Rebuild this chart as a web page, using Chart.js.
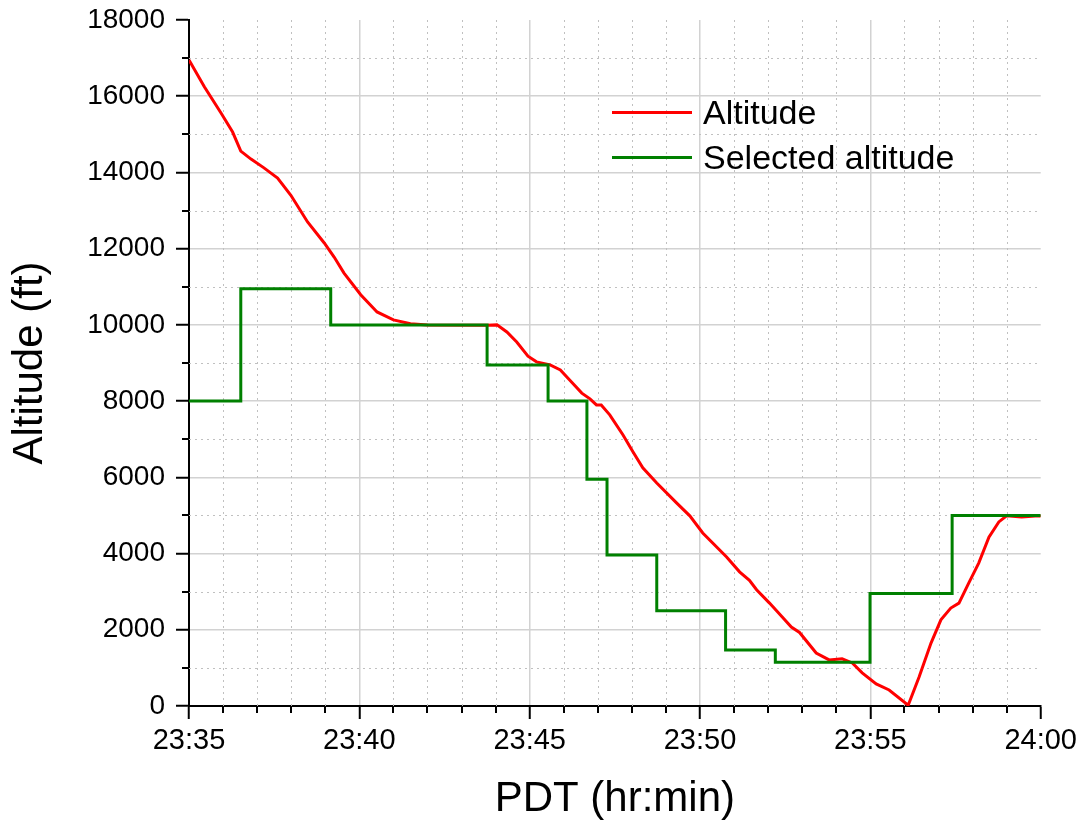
<!DOCTYPE html>
<html>
<head>
<meta charset="utf-8">
<script src="https://cdn.jsdelivr.net/npm/chart.js@4.4.0/dist/chart.umd.min.js"></script>
<style>
  html, body { margin: 0; padding: 0; background: #fff; }
  #wrap { position: relative; width: 1082px; height: 827px; }
  #legend {
    position: absolute; left: 612px; top: 90px;
    font-family: 'Liberation Sans', Arial, sans-serif; font-size: 34px; color: #000;
  }
  .item { display: flex; align-items: center; height: 45px; white-space: nowrap; }
  .swatch { width: 80px; height: 3px; margin-right: 11px; }
</style>
</head>
<body>
<div id="wrap">
  <canvas id="chart" width="1082" height="827"></canvas>
  <div id="legend"></div>
</div>
<script>
// minutes after 23:35
const xTickLabels = ['23:35', '23:40', '23:45', '23:50', '23:55', '24:00'];

const altTime = [0, 0.45, 0.94, 1.28, 1.52, 1.82, 2.2, 2.6, 2.99, 3.48, 3.97, 4.26, 4.55, 5.04, 5.52, 6.0, 6.5, 7.0,
  8.75, 9.04, 9.33, 9.62, 9.95, 10.2, 10.6, 10.9, 11.18, 11.53, 11.77, 11.96, 12.1, 12.35, 12.74, 13.03, 13.32, 13.73,
  14.31, 14.7, 15.08, 15.78, 16.16, 16.45, 16.66, 17.04, 17.4, 17.68, 17.92, 18.41, 18.79, 19.17, 19.47, 19.76, 20.17,
  20.55, 21.11, 21.43, 21.78, 22.07, 22.36, 22.6, 22.89, 23.18, 23.48, 23.77, 24.0, 24.44, 24.94, 25];
const altFeet = [16950, 16250, 15560, 15060, 14560, 14350, 14120, 13850, 13400, 12700, 12150, 11780, 11360, 10790, 10340, 10130, 10030, 10000,
  9990, 10000, 9815, 9550, 9180, 9030, 8950, 8820, 8550, 8210, 8060, 7900, 7900, 7640, 7110, 6670, 6250, 5850,
  5330, 4990, 4540, 3910, 3520, 3300, 3050, 2700, 2350, 2070, 1930, 1390, 1210, 1240, 1130, 870, 580,
  420, 20, 760, 1650, 2260, 2570, 2700, 3230, 3750, 4430, 4830, 4990, 4960, 4990, 4980];

// selected altitude: time each new value was set
const selTime = [0, 1.52, 4.16, 8.75, 10.54, 11.68, 12.27, 13.73, 15.75, 17.21, 19.99, 22.4, 25];
const selFeet = [8000, 10950, 10000, 8950, 8000, 5950, 3960, 2500, 1470, 1150, 2950, 5000, 5000];

const font = "'Liberation Sans', Arial, sans-serif";
const majorGrid = '#d2d2d2';

const minorGrid = {
  id: 'minorGrid',
  beforeDatasetsDraw(chart) {
    const { ctx, chartArea: a, scales: { x, y } } = chart;
    ctx.save();
    ctx.strokeStyle = '#c0c0c0';
    ctx.lineWidth = 1;
    ctx.setLineDash([2, 4]);
    ctx.beginPath();
    for (let m = 1; m < 25; m++) {
      if (m % 5 === 0) continue;
      const px = Math.round(x.getPixelForValue(m)) + 0.5;
      ctx.moveTo(px, a.top);
      ctx.lineTo(px, a.bottom);
    }
    for (let v = 1000; v < 18000; v += 2000) {
      const py = Math.round(y.getPixelForValue(v)) + 0.5;
      ctx.moveTo(a.left, py);
      ctx.lineTo(a.right, py);
    }
    ctx.stroke();
    ctx.restore();
  },
  afterDraw(chart) {
    const { ctx, chartArea: a, scales: { x, y } } = chart;
    ctx.save();
    ctx.strokeStyle = '#000';
    ctx.lineWidth = 2;
    ctx.beginPath();
    for (let m = 1; m < 25; m++) {
      if (m % 5 === 0) continue;
      const px = Math.round(x.getPixelForValue(m));
      ctx.moveTo(px, a.bottom);
      ctx.lineTo(px, a.bottom + 7);
    }
    for (let v = 1000; v < 18000; v += 2000) {
      const py = Math.round(y.getPixelForValue(v));
      ctx.moveTo(a.left - 7, py);
      ctx.lineTo(a.left, py);
    }
    ctx.stroke();
    ctx.restore();
  }
};

const datasets = [
  {
    label: 'Altitude',
    data: altTime.map((t, i) => ({ x: t, y: altFeet[i] })),
    borderColor: '#ff0000',
    borderWidth: 3,
    pointRadius: 0,
    tension: 0,
    order: 2
  },
  {
    label: 'Selected altitude',
    data: selTime.map((t, i) => ({ x: t, y: selFeet[i] })),
    borderColor: '#008000',
    borderWidth: 3,
    pointRadius: 0,
    stepped: 'before',
    order: 1
  }
];

new Chart(document.getElementById('chart'), {
  type: 'line',
  data: { datasets: datasets },
  options: {
    responsive: false,
    animation: false,
    devicePixelRatio: 1,
    layout: { padding: { top: 20, right: 40, left: 0, bottom: 0 } },
    plugins: { legend: { display: false }, tooltip: { enabled: false } },
    scales: {
      x: {
        type: 'linear', min: 0, max: 25,
        afterFit: s => { s.height = 121; },
        border: { color: '#000', width: 2 },
        grid: {
          color: c => (c.tick && c.tick.value === 25 ? 'rgba(0,0,0,0)' : majorGrid),
          lineWidth: 1.5, tickColor: '#000', tickLength: 13, tickWidth: 2
        },
        ticks: {
          stepSize: 5, padding: 5, color: '#000', maxRotation: 0, autoSkip: false,
          font: { family: font, size: 29 },
          callback: v => xTickLabels[v / 5]
        },
        title: {
          display: true, text: 'PDT (hr:min)', color: '#000',
          font: { family: font, size: 42 }, padding: { top: 0, bottom: 2 }
        }
      },
      y: {
        min: 0, max: 18000,
        afterFit: s => { s.width = 189; s.paddingTop = 0; s.paddingBottom = 0; },
        border: { color: '#000', width: 2 },
        grid: {
          color: c => (c.tick && c.tick.value === 18000 ? 'rgba(0,0,0,0)' : majorGrid),
          lineWidth: 1.5, tickColor: '#000', tickLength: 13, tickWidth: 2
        },
        ticks: {
          stepSize: 2000, padding: 11, color: '#000',
          font: { family: font, size: 28 },
          callback: v => String(v)
        },
        title: {
          display: true, text: 'Altitude (ft)', color: '#000',
          font: { family: font, size: 42 }, padding: { top: 5, bottom: 0 }
        }
      }
    }
  },
  plugins: [minorGrid]
});

const legend = document.getElementById('legend');
datasets.forEach(d => {
  const item = document.createElement('div');
  item.className = 'item';
  const sw = document.createElement('span');
  sw.className = 'swatch';
  sw.style.background = d.borderColor;
  const txt = document.createElement('span');
  txt.textContent = d.label;
  item.appendChild(sw);
  item.appendChild(txt);
  legend.appendChild(item);
});
</script>
</body>
</html>
